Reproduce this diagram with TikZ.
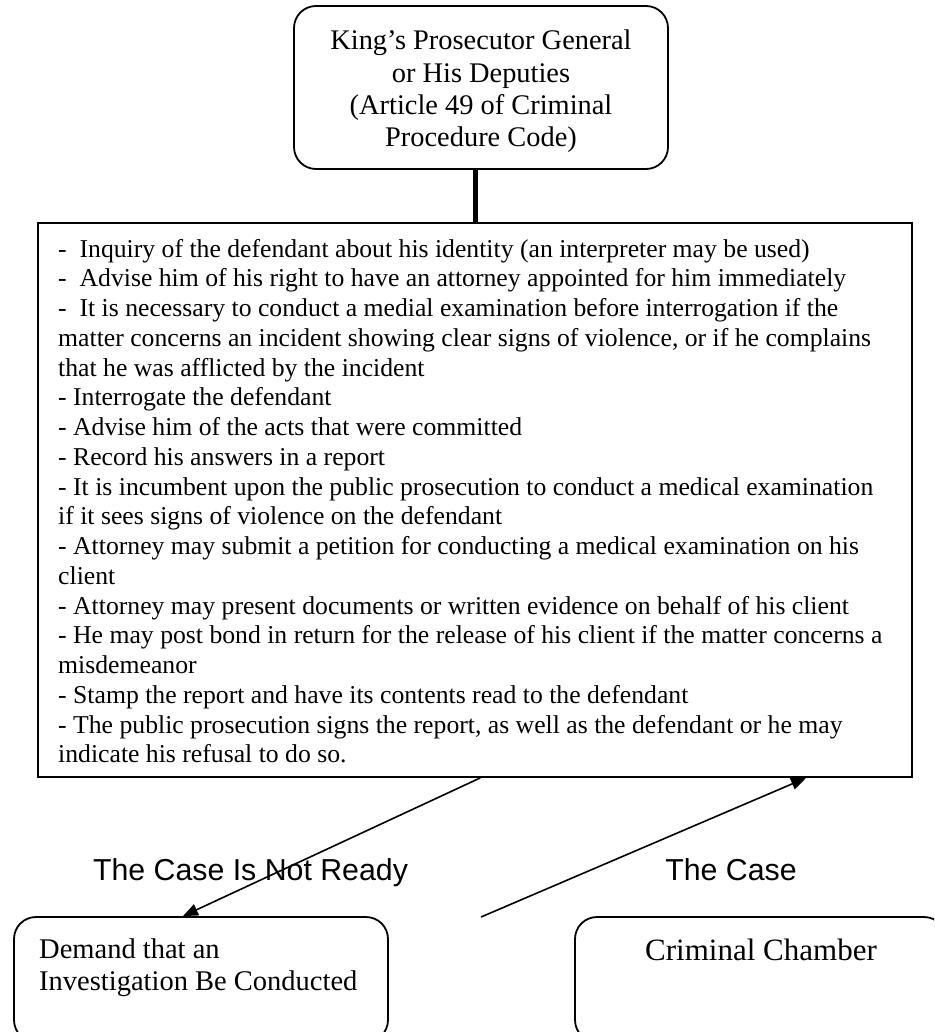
\documentclass[tikz,border=0pt]{standalone}
\usepackage{fontspec}
\setmainfont{Liberation Serif}
\newfontfamily\labelfont{Liberation Sans}
\usetikzlibrary{arrows.meta,calc}
\begin{document}
\begin{tikzpicture}[x=1pt,y=-1pt,
  box/.style={draw,line width=1.8pt,inner sep=0pt},
  rbox/.style={box,rounded corners=22pt},
  txt/.style={inner sep=0pt},
  headtext/.style={txt,anchor=base,font=\fontsize{28.4pt}{32.3pt}\selectfont},
  bodytext/.style={txt,anchor=base west,font=\fontsize{25.7pt}{29.76pt}\selectfont},
  outtext/.style={txt,font=\fontsize{28.5pt}{32pt}\selectfont},
  edgelabel/.style={txt,anchor=base,font=\labelfont\fontsize{30.3pt}{36pt}\selectfont},
  flow/.style={line width=1.6pt,-{Triangle[length=15pt,width=12pt]}},
]
\useasboundingbox (0,0) rectangle (934,1032);
\clip (0,0) rectangle (934,1032);

% boxes
\node[rbox,minimum width=374pt,minimum height=163pt] (top) at (481,87.5) {};
\node[box,minimum width=874pt,minimum height=554pt] (steps) at (475,500) {};
\node[rbox,minimum width=374pt,minimum height=125pt] (inv) at (201,979.5) {};
\node[rbox,minimum width=371pt,minimum height=125pt] (chamber) at (760.5,979.5) {};

% heading text
\foreach \t [count=\i] in {{King’s Prosecutor General},{or His Deputies},{(Article 49 of Criminal},{Procedure Code)}}
  \node[headtext] (h\i) at (481,{50+32.3*(\i-1)}) {\t};

% procedure list
\foreach \t [count=\i] in {
  {-\ \ Inquiry of the defendant about his identity (an interpreter may be used)},
  {-\ \ Advise him of his right to have an attorney appointed for him immediately},
  {-\ \ It is necessary to conduct a medial examination before interrogation if the},
  {matter concerns an incident showing clear signs of violence, or if he complains},
  {that he was afflicted by the incident},
  {- Interrogate the defendant},
  {- Advise him of the acts that were committed},
  {- Record his answers in a report},
  {- It is incumbent upon the public prosecution to conduct a medical examination},
  {if it sees signs of violence on the defendant},
  {- Attorney may submit a petition for conducting a medical examination on his},
  {client},
  {- Attorney may present documents or written evidence on behalf of his client},
  {- He may post bond in return for the release of his client if the matter concerns a},
  {misdemeanor},
  {- Stamp the report and have its contents read to the defendant},
  {- The public prosecution signs the report, as well as the defendant or he may},
  {indicate his refusal to do so.}}
  \node[bodytext] (ln\i) at (58,{257+29.76*(\i-1)}) {\t};

% outcome boxes text
\node[outtext,anchor=base west] (inv1) at (39,958) {Demand that an};
\node[outtext,anchor=base west] (inv2) at (39,990) {Investigation Be Conducted};
\node[txt,anchor=base,font=\fontsize{31pt}{36pt}\selectfont] (chambertext) at (761,960) {Criminal Chamber};

% edge labels
\node[edgelabel] (notready) at (250.5,880) {The Case Is Not Ready};
\node[edgelabel] (thecase) at (731,880) {The Case};

% connectors
\draw[line width=5pt] (top.south -| steps.north) -- (steps.north);
\draw[flow] ($(steps.south west)!0.506!(steps.south east)$) -- ($(inv.north west)!0.452!(inv.north east)$);
\coordinate (casefrom) at (481,917);
\draw[flow] (casefrom) -- ($(steps.south west)!0.878!(steps.south east)$);
\end{tikzpicture}
\end{document}
